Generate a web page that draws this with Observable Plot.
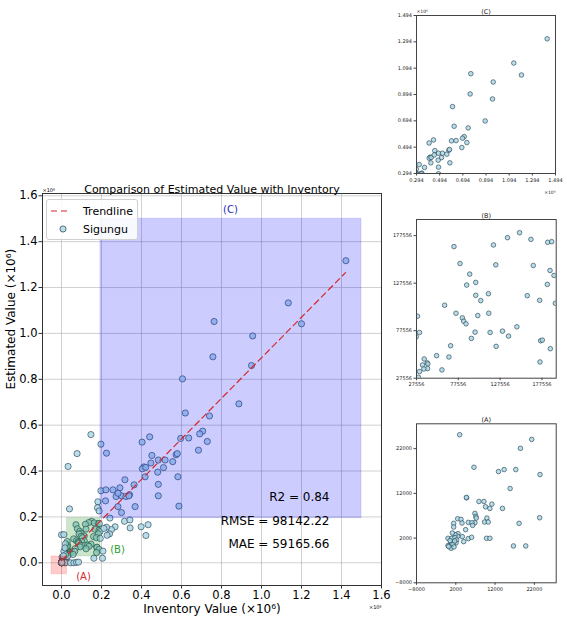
<!DOCTYPE html>
<html><head><meta charset="utf-8">
<script src="https://cdn.jsdelivr.net/npm/d3@7"></script>
<script src="https://cdn.jsdelivr.net/npm/@observablehq/plot@0.6"></script>
<style>
body{margin:0;background:#fff;font-family:"DejaVu Sans",sans-serif;}
#wrap{position:relative;width:567px;height:625px;overflow:hidden;background:#fff;}
.fig{position:absolute;}
.fig svg{overflow:visible;}
#legend{position:absolute;left:46px;top:199px;width:90px;height:39px;border:1px solid #d0d0d0;border-radius:3px;background:rgba(255,255,255,0.85);font-size:11px;}
</style></head><body><div id="wrap"></div>
<script>
// ---- data (raw units) ----
// region A (small values)
const invA = [2985,21322,18449,6619,12872,14308,17266,23434,15829,4760,4700,7886,9154,11182,9576,10675,13886,6872,7126,7210,6872,5182,6112,6281,9914,9323,10252,23350,18111,2478,3323,3576,1464,1464,4506,2563,3661,2478,1802,1126,28,957,1802,2225,704,2056,28,873,788,1295,5182,6027,4000,9829,10675,16674,19801,197,1549,535,1718];
const estA = [25116,24076,22071,17839,16874,17320,17320,16206,13087,11008,11100,10191,10191,9597,9003,8632,8632,7518,6850,6479,5439,5514,5439,4845,6479,5588,5588,6553,5291,6330,6182,5365,5291,4474,3880,2989,2321,2395,2766,3137,1950,1950,2098,1578,1133,910,316,539,-278,613,1875,2172,1207,1950,1950,242,242,94,19,1430,1355];
// region B (mid values)
const invB = [150756,136356,164356,184356,189156,72356,119556,79556,122356,167156,187156,191956,91156,98356,87556,183956,113556,98356,159956,104356,174756,193556,61156,28756,74756,113956,100756,82356,83956,86756,147556,31156,97556,115556,130356,137556,93156,175956,177956,68356,122756,187556,51556,66356,175156,36756,34756,40356,41156,40756,36356,57956,31156,29956,27300];
const estB = [180679,175447,173700,170560,171258,166030,167774,148240,146846,146148,140916,135684,137079,128359,125569,126266,116500,114756,114407,109175,109524,106385,104291,92782,95921,95921,93480,91038,87550,84760,81620,75690,76039,75690,77085,71853,69412,66970,67668,61739,61041,58598,51274,49879,44647,47786,41508,43600,42555,37672,37323,36276,34532,28602,71156];
// region C (large values)
const invC = [1422000,1134000,1200000,763000,956000,757000,950000,605000,887000,619000,740000,441000,403000,706000,691000,596000,636000,729000,685000,452000,412000,404000,421000,484000,518000,510000,556000,573000,579000,447000,481000,418000,582000,484000,363000,317000,340000,484000];
const estC = [1317000,1133000,1042000,1052000,989000,898000,860000,802000,693000,653000,640000,549000,526000,574000,562000,542000,544000,529000,491000,468000,418000,410000,416000,448000,448000,415000,441000,471000,476000,435000,395000,375000,375000,342000,340000,362000,297000,292000];
// remaining points (outside the three zoom windows)
const invO = [147000,197000,225000,78000,33000,40000,182000,180000,188000,197000,222000,220000,257000,292000,273000,300000,322000,283000,337000,368000,282000,300000,242000,315000,342000,343000,398000,433000,422000,268000,250000,240000,228000,225000,212000,207000,205000,162000,45000,62000,75000,85000,587000,0,12000,20000,12000,18000,20000,10000];
const estO = [559000,517000,478000,476000,420000,235000,266000,240000,226000,314000,318000,270000,318000,327000,289000,292000,289000,303000,292000,245000,245000,219000,195000,181000,187000,152000,157000,166000,119000,157000,145000,126000,120000,155000,150000,51000,20000,20000,0,0,2000,3000,247000,122000,123000,83000,50000,65000,35000,30000];

// trend line end points
const trendInv = [0, 1420000];
const trendEst = [10000, 1265000];

// highlighted windows
const regionNames = ["(A)", "(B)", "(C)"];
const regionX1 = [-50000, 27556, 194556];
const regionX2 = [27556, 194556, 1500000];
const regionY1 = [-50000, 27556, 194556];
const regionY2 = [27556, 194556, 1500000];
const regionFill = ["red", "green", "blue"];
const regionLabelColor = ["#d62728", "#2ca02c", "#1f1fbf"];
const regionLabelX = [110000, 280000, 845000];
const regionLabelY = [-60000, 57000, 1537000];

const mainTicks = [0, 0.2, 0.4, 0.6, 0.8, 1.0, 1.2, 1.4, 1.6];
const ticksA = [-8000, 2000, 12000, 22000];
const ticksB = [27556, 77556, 127556, 177556];
const ticksC = [0.294, 0.494, 0.694, 0.894, 1.094, 1.294, 1.494];
const statLabels = ["R2 = 0.84", "RMSE = 98142.22", "MAE = 59165.66"];
const title = "Comparison of Estimated Value with Inventory";
const xLabel = "Inventory Value (×10⁶)";
const yLabel = "Estimated Value (×10⁶)";

// ---- build tables ----
const points = [];
[[invA, estA], [invB, estB], [invC, estC], [invO, estO]].forEach(([xs, ys]) => xs.forEach((v, i) => points.push({x: v, y: ys[i]})));
const trend = trendInv.map((v, i) => ({x: v / 1e6, y: trendEst[i] / 1e6}));
const regions = regionNames.map((n, i) => ({
  label: n, x1: regionX1[i] / 1e6, x2: regionX2[i] / 1e6, y1: regionY1[i] / 1e6, y2: regionY2[i] / 1e6,
  fill: regionFill[i], lc: regionLabelColor[i], lx: regionLabelX[i] / 1e6, ly: regionLabelY[i] / 1e6
}));

const FONT = "DejaVu Sans";
const wrap = document.getElementById("wrap");
function place(node, left, top) {
  const d = document.createElement("div");
  d.className = "fig"; d.style.left = left + "px"; d.style.top = top + "px";
  d.appendChild(node); wrap.appendChild(d);
}

const dotStyle = {fill: "#add8e6", fillOpacity: 0.85, stroke: "#23404f", strokeWidth: 0.7, strokeOpacity: 0.9};

// ---- main chart ----
const main = Plot.plot({
  width: 390, height: 455,
  marginLeft: 42, marginRight: 9, marginTop: 23, marginBottom: 40,
  style: {fontFamily: FONT, fontSize: "11.5px", color: "#000", background: "transparent"},
  x: {domain: [-0.095, 1.6]},
  y: {domain: [-0.099, 1.61]},
  color: {type: "identity"},
  marks: [
    Plot.gridX(mainTicks, {stroke: "#b0b0b0", strokeOpacity: 0.6}),
    Plot.gridY(mainTicks, {stroke: "#b0b0b0", strokeOpacity: 0.6}),
    Plot.dot(points, {x: d => d.x / 1e6, y: d => d.y / 1e6, r: 3.1, ...dotStyle}),
    Plot.rect(regions, {x1: "x1", x2: "x2", y1: "y1", y2: "y2", fill: "fill", fillOpacity: 0.2, stroke: "fill", strokeOpacity: 0.12}),
    Plot.line(trend, {x: "x", y: "y", stroke: "#d62728", strokeWidth: 1.2, strokeDasharray: "6,4"}),
    Plot.text(regions, {x: "lx", y: "ly", text: "label", fill: "lc", fontSize: 10}),
    Plot.frame({stroke: "#333"}),
    Plot.axisX(mainTicks, {tickFormat: d3.format(".1f"), tickSize: 3.5, tickPadding: 1.5, label: null, stroke: "#333"}),
    Plot.axisY(mainTicks, {tickFormat: d3.format(".1f"), tickSize: 3.5, tickPadding: 1.5, label: null, stroke: "#333"}),
    Plot.text([statLabels[0]], {text: d => d, frameAnchor: "bottom-right", dx: -52, dy: -85, textAnchor: "end", fontSize: 12}),
    Plot.text([statLabels[1]], {text: d => d, frameAnchor: "bottom-right", dx: -52, dy: -61, textAnchor: "end", fontSize: 12}),
    Plot.text([statLabels[2]], {text: d => d, frameAnchor: "bottom-right", dx: -52, dy: -38, textAnchor: "end", fontSize: 12}),
    Plot.text([title], {text: d => d, frameAnchor: "top", dy: -8, fontSize: 11}),
    Plot.text([xLabel], {text: d => d, frameAnchor: "bottom", dy: 27, fontSize: 12}),
    Plot.text([yLabel], {text: d => d, frameAnchor: "left", dx: -31, rotate: -90, fontSize: 12}),
    Plot.text(["×10⁶"], {text: d => d, frameAnchor: "top-left", dy: -5, textAnchor: "start", fontSize: 5}),
    Plot.text(["×10⁶"], {text: d => d, frameAnchor: "bottom-right", dy: 23, textAnchor: "end", fontSize: 5})
  ]
});
place(main, 0, 170);

// ---- insets ----
function inset({mt, mb, mr, domain, ticks, fmt, div, label, offset}) {
  const marks = [
    Plot.dot(points, {x: d => d.x / div, y: d => d.y / div, r: 2.3, clip: true, ...dotStyle}),
    Plot.frame({stroke: "#444"}),
    Plot.axisX(ticks, {tickFormat: fmt, tickSize: 2.5, tickPadding: 2, label: null, stroke: "#444"}),
    Plot.axisY(ticks, {tickFormat: fmt, tickSize: 2.5, tickPadding: 2, label: null, stroke: "#444"}),
    Plot.text([label], {text: d => d, frameAnchor: "top", dy: -6, fontSize: 6.5})
  ];
  if (offset) {
    marks.push(Plot.text(["×10⁶"], {text: d => d, frameAnchor: "top-left", dy: -6, textAnchor: "start", fontSize: 4.5}));
    marks.push(Plot.text(["×10⁶"], {text: d => d, frameAnchor: "bottom-right", dy: 20, textAnchor: "end", fontSize: 4.5}));
  }
  return Plot.plot({
    width: 177, height: 200, marginLeft: 26, marginRight: mr, marginTop: mt, marginBottom: mb,
    style: {fontFamily: FONT, fontSize: "5px", color: "#222", background: "transparent"},
    x: {domain}, y: {domain},
    marks
  });
}
place(inset({mt: 15, mb: 27, mr: 12, domain: [0.294, 1.494], ticks: ticksC, fmt: d3.format(".3f"), div: 1e6, label: "(C)", offset: true}), 390, 0);
place(inset({mt: 19, mb: 22.3, mr: 11.3, domain: [27556, 194556], ticks: ticksB, fmt: d => String(d), div: 1, label: "(B)"}), 390, 200);
place(inset({mt: 23.3, mb: 17.7, mr: 11.3, domain: [-8000, 27556], ticks: ticksA, fmt: d3.format("d"), div: 1, label: "(A)"}), 390, 400);

// ---- legend ----
const lg = document.createElement("div");
lg.id = "legend";
lg.innerHTML = `<svg width="90" height="39" style="position:absolute;left:0;top:0;font-family:'DejaVu Sans';font-size:11px">
<line x1="4" x2="22" y1="11" y2="11" stroke="#d62728" stroke-width="1.2" stroke-dasharray="6,4"/>
<text x="36" y="11" dy="0.35em">Trendline</text>
<circle cx="16" cy="29" r="3.1" fill="#add8e6" fill-opacity="0.85" stroke="#23404f" stroke-width="0.7"/>
<text x="36" y="29" dy="0.35em">Sigungu</text></svg>`;
wrap.appendChild(lg);
</script></body></html>
